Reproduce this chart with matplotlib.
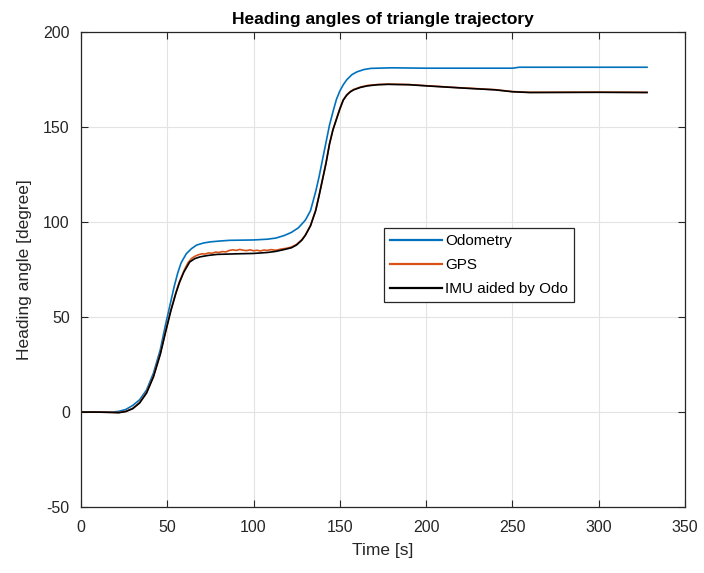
import matplotlib
matplotlib.use('Agg')
import matplotlib.pyplot as plt

plt.rcParams['font.family'] = ['Liberation Sans', 'DejaVu Sans']
plt.rcParams['axes.unicode_minus'] = False

# Odometry heading [deg]
t_odo = [0, 10, 18, 22, 26, 30, 34, 38, 42, 46, 49, 52, 54, 56, 58, 61, 64, 67, 71, 75,
         80, 86, 100, 108, 113, 118, 122, 126, 130, 133, 136, 138, 140, 142, 144, 146, 148,
         150, 152, 154, 157, 160, 164, 168, 180, 200, 250, 254, 300, 328]
odo = [0, 0, 0, 0.4, 1.4, 3.5, 6.5, 11.6, 20.5, 33, 46, 58, 66, 73, 78.5, 83.3, 86, 87.9, 89, 89.6,
       90, 90.4, 90.6, 91, 91.6, 93, 94.6, 97, 101, 106, 116, 124, 133, 142, 151, 158, 164.5,
       169, 172.3, 174.9, 177.6, 179.1, 180.3, 180.9, 181.2, 181, 181, 181.5, 181.5, 181.5]

# GPS heading [deg]
t_gps = [0, 10, 18, 22, 26, 30, 34, 38, 42, 46, 49, 52, 55, 57, 60, 62, 64, 66, 68, 70,
         72, 74, 76, 78, 80, 82, 84, 86, 88, 90, 92, 94, 96, 98, 100, 102, 104, 106, 108, 110,
         113, 116, 119, 122, 125, 128, 130, 133, 136, 138, 140, 142, 144, 146, 148, 150, 152,
         154, 156, 158, 162, 166, 172, 178, 190, 200, 220, 240, 250, 260, 300, 328]
gps = [0, 0, -0.1, -0.2, 0.4, 2.0, 5.1, 10.4, 19, 31, 42.5, 53.5, 63, 68.5, 75, 78.6, 80.8, 82, 82.8, 83.3,
       83.2, 83.8, 83.6, 84.2, 84.0, 84.5, 84.3, 85.1, 85.4, 85.1, 85.6, 85.2, 85.0, 85.4, 84.9, 85.2, 84.8, 85.3, 85.1, 85.5,
       85.2, 85.8, 86.2, 86.9, 88.3, 90.8, 93.2, 98.3, 106.3, 114.2, 122.7, 131.2, 141.2, 148.7, 154.2, 159.7, 164.4,
       167, 168.7, 169.8, 171.1, 171.9, 172.4, 172.6, 172.4, 171.8, 170.7, 169.7, 168.7, 168.3, 168.4, 168.3]

# IMU aided by odometry heading [deg]
t_imu = [0, 10, 18, 22, 26, 30, 34, 38, 42, 46, 49, 52, 55, 57, 59.5, 63, 66, 69, 74, 79,
         90, 100, 108, 113, 118, 122, 125, 128, 130, 133, 136, 138, 140, 142, 144, 146, 148,
         150, 152, 154, 156, 158, 162, 166, 172, 178, 190, 200, 220, 240, 250, 260, 300, 328]
imu = [0, 0, -0.2, -0.3, 0.3, 1.8, 4.8, 10, 18.5, 30.5, 42, 53, 62.5, 68, 73.5, 79, 80.8, 81.7, 82.5, 83,
       83.3, 83.5, 84, 84.6, 85.6, 86.5, 88, 90.5, 93, 98, 106, 114, 122.5, 131, 141, 148.5, 154,
       159.5, 164.2, 166.8, 168.5, 169.6, 170.9, 171.7, 172.3, 172.5, 172.3, 171.7, 170.6, 169.6, 168.6, 168.2, 168.3, 168.2]

fig = plt.figure(figsize=(7.04, 5.73), dpi=100)
ax = fig.add_axes([0.115, 0.115, 0.858, 0.829])

ax.plot(t_odo, odo, color='#0072BD', linewidth=1.2, label='Odometry')
ax.plot(t_gps, gps, color='#D95319', linewidth=1.2, label='GPS')
ax.plot(t_imu, imu, color='black', linewidth=1.2, label='IMU aided by Odo')

ax.set_xlim(0, 350)
ax.set_ylim(-50, 200)
ax.set_xticks(range(0, 351, 50))
ax.set_yticks(range(-50, 201, 50))
ax.grid(True, color='#e3e3e3', linewidth=0.8)
ax.set_axisbelow(True)

for s in ax.spines.values():
    s.set_color('#262626')
    s.set_linewidth(0.9)
ax.tick_params(direction='in', top=True, right=True, length=5, width=0.8,
               colors='#262626', labelsize=11.5)
ax.tick_params(axis='x', pad=9)
ax.tick_params(axis='y', pad=8)

ax.set_xlabel('Time [s]', fontsize=12.5, color='#262626', labelpad=6)
ax.set_ylabel('Heading angle [degree]', fontsize=12.5, color='#262626', labelpad=8)
ax.set_title('Heading angles of triangle trajectory', fontsize=12.5, fontweight='bold',
             color='black', pad=6)

leg = ax.legend(loc='upper left', bbox_to_anchor=(0.502, 0.587), fontsize=11,
                frameon=True, fancybox=False, edgecolor='#262626', framealpha=1,
                handlelength=3.4, handletextpad=0.2, borderpad=0.4, labelspacing=0.65,
                borderaxespad=0)
leg.get_frame().set_linewidth(0.9)
for line in leg.get_lines():
    line.set_linewidth(1.6)

fig.savefig('out.png', dpi=100)
